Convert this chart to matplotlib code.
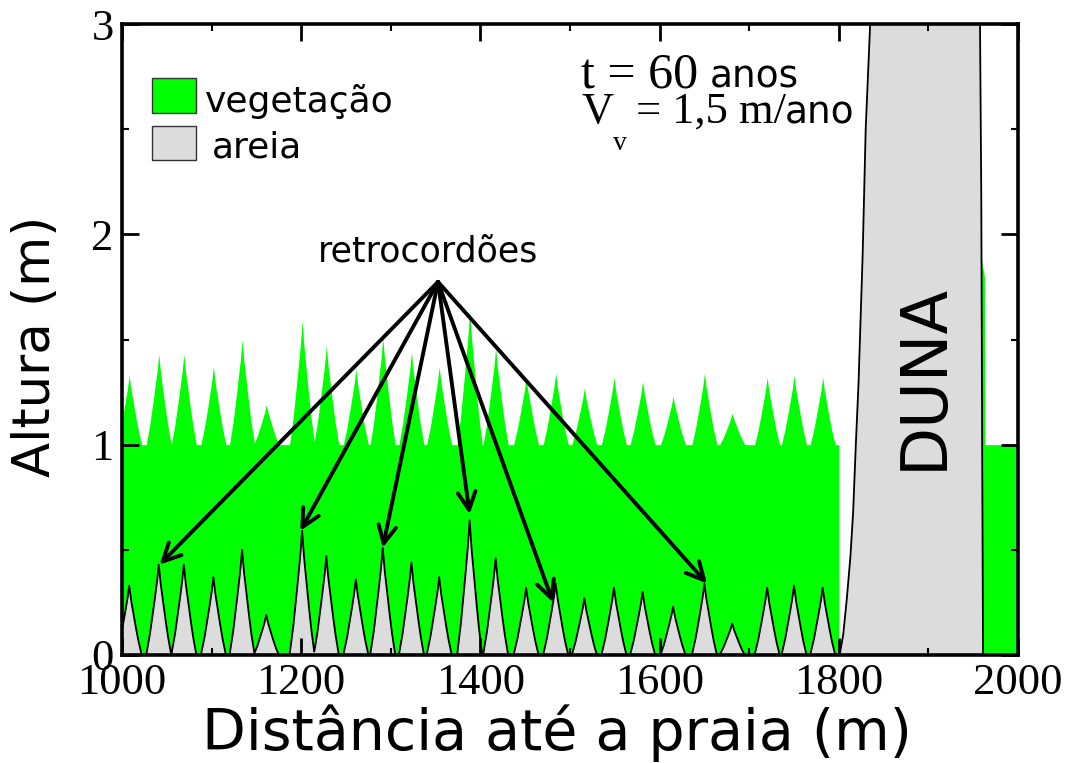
import numpy as np
import matplotlib
matplotlib.use('Agg')
import matplotlib.pyplot as plt
from matplotlib.patches import Rectangle
from matplotlib.ticker import MultipleLocator

W, H = 1068, 763

# cristas de areia (posicao m, altura m)
ridge_x = [1008, 1041, 1069, 1102, 1134, 1161, 1201, 1228, 1261, 1291, 1323, 1354, 1388,
           1417, 1451, 1484, 1516, 1549, 1581, 1615, 1650, 1681, 1720, 1750, 1782]
ridge_h = [0.33, 0.43, 0.43, 0.37, 0.50, 0.19, 0.59, 0.47, 0.36, 0.51, 0.44, 0.37, 0.64,
           0.46, 0.32, 0.34, 0.27, 0.32, 0.30, 0.23, 0.34, 0.15, 0.32, 0.33, 0.32]
# forma de cada crista (offset em m, fracao da altura)
shape_dx = [-14, -10, -6, -2, 0, 2, 6, 10, 14]
shape_f = [0, 0.22, 0.5, 0.8, 1, 0.8, 0.5, 0.22, 0]
veg_end = 1800

# duna
dune_x = [1801, 1805, 1809, 1813, 1816, 1819, 1822, 1826.6, 1830, 1835, 1840,
          1955, 1957.6, 1959, 1960, 1961]
dune_h = [0, 0.1, 0.27, 0.47, 0.68, 1.0, 1.29, 1.9, 2.5, 3.0, 3.5,
          3.5, 3.0, 2.2, 1.0, 0]

# vegetacao depois da duna
veg2_x = [1958.5, 1958.5, 1962.5, 1962.8, 2000]
veg2_h = [0, 1.9, 1.8, 1.0, 1.0]

# setas
arrow_from = (1352.7, 1.774)
arrow_x = [1042, 1199, 1291, 1388, 1481, 1653]
arrow_y = [0.43, 0.59, 0.51, 0.67, 0.25, 0.34]

green = '#00ff00'
gray = '#dcdcdc'

plt.rcParams['font.family'] = 'Liberation Serif'

fig = plt.figure(figsize=(W / 100, H / 100), dpi=100)
ax = fig.add_axes([122 / W, (H - 655) / H, (1018 - 122) / W, (655 - 24) / H])

xs = np.linspace(1000, veg_end, 3201)
sand = np.zeros_like(xs)
for xc, h in zip(ridge_x, ridge_h):
    sand = np.maximum(sand, h * np.interp(xs - xc, shape_dx, shape_f))

ax.fill_between(xs, 0, sand + 1, color=green, lw=0)
ax.fill_between(veg2_x, 0, veg2_h, color=green, lw=0)
ax.fill_between(xs, 0, sand, color=gray, lw=0)
ax.plot(xs, sand, color='k', lw=1.3)
ax.fill(dune_x, dune_h, color=gray, lw=0)
ax.plot(dune_x, dune_h, color='k', lw=1.3)

for tx, ty in zip(arrow_x, arrow_y):
    ax.annotate('', xy=(tx, ty), xytext=arrow_from,
                arrowprops=dict(arrowstyle='->', lw=2.8, color='k',
                                mutation_scale=32, shrinkA=0, shrinkB=0))

ax.set_xlim(1000, 2000)
ax.set_ylim(0, 3)
ax.xaxis.set_major_locator(MultipleLocator(200))
ax.xaxis.set_minor_locator(MultipleLocator(100))
ax.yaxis.set_major_locator(MultipleLocator(1))
ax.yaxis.set_minor_locator(MultipleLocator(0.5))
ax.tick_params(which='both', direction='in', top=True, right=True, labelsize=32)
ax.tick_params(which='major', length=12, width=2, pad=6)
ax.tick_params(which='minor', length=5, width=1.5)
for s in ax.spines.values():
    s.set_linewidth(2.6)
    s.set_zorder(5)


def fx(px):
    return px / W


def fy(py):
    return 1 - py / H


sans = 'DejaVu Sans'
fig.text(fx(557), fy(750), 'Distância até a praia (m)', family=sans, size=41,
         ha='center', va='baseline')
fig.text(fx(50), fy(346), 'Altura (m)', family=sans, size=37, rotation=90,
         rotation_mode='anchor', ha='center', va='baseline')
fig.text(fx(942), fy(376), 'DUNA', family=sans, size=46, rotation=90,
         rotation_mode='anchor', ha='center', va='baseline')
fig.text(fx(428), fy(261), 'retrocordões', family=sans, size=25,
         ha='center', va='baseline')

# legenda
fig.add_artist(Rectangle((fx(152), fy(113)), 44 / W, 35 / H, transform=fig.transFigure,
                         fc=green, ec='#333333', lw=1))
fig.add_artist(Rectangle((fx(152), fy(160)), 44 / W, 34 / H, transform=fig.transFigure,
                         fc=gray, ec='#333333', lw=1))
fig.text(fx(205), fy(112), 'vegetação', family=sans, size=26, va='baseline')
fig.text(fx(212), fy(157), 'areia', family=sans, size=26, va='baseline')

# t e Vv
fig.text(fx(581), fy(88), 't = 60', size=36, va='baseline')
fig.text(fx(710), fy(88), 'anos', family=sans, size=27, va='baseline')
fig.text(fx(582), fy(123), 'V', size=32, va='baseline')
fig.text(fx(613), fy(150), 'v', size=20, va='baseline')
fig.text(fx(636), fy(123), '= 1,5 m/', size=32, va='baseline')
fig.text(fx(785), fy(123), 'ano', family=sans, size=27, va='baseline')

fig.savefig('out.png', dpi=100)
